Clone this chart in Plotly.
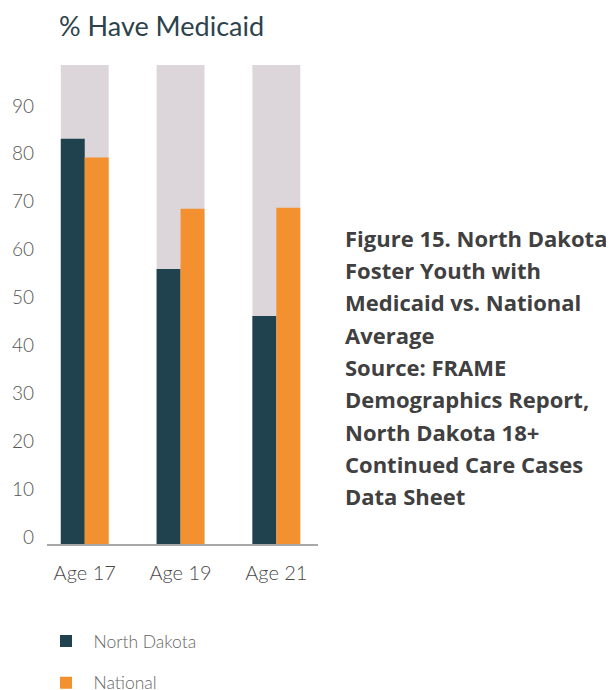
import plotly.graph_objects as go

categories = ["Age 17", "Age 19", "Age 21"]
north_dakota = [84.6, 57.4, 47.6]
national = [80.7, 70.0, 70.2]
background = [100, 100, 100]
y_ticks = [0, 10, 20, 30, 40, 50, 60, 70, 80, 90]
series_names = ["North Dakota", "National"]
title_text = "% Have Medicaid"
caption_lines = [
    "Figure 15. North Dakota",
    "Foster Youth with",
    "Medicaid vs. National",
    "Average",
    "Source: FRAME",
    "Demographics Report,",
    "North Dakota 18+",
    "Continued Care Cases",
    "Data Sheet",
]

ND_COLOR = "#1f424e"
NAT_COLOR = "#f39131"
BG_COLOR = "#dcd6db"

fig = go.Figure()
fig.add_trace(go.Bar(x=categories, y=background, width=0.5, offset=-0.25,
                     marker=dict(color=BG_COLOR, line=dict(width=0)),
                     showlegend=False, hoverinfo="skip"))
fig.add_trace(go.Bar(x=categories, y=north_dakota, width=0.25, offset=-0.25,
                     name=series_names[0], legendgroup="a",
                     marker=dict(color=ND_COLOR, line=dict(width=0))))
fig.add_trace(go.Bar(x=categories, y=national, width=0.25, offset=0.0,
                     name=series_names[1], legendgroup="b",
                     marker=dict(color=NAT_COLOR, line=dict(width=0))))

# the page adds an 8px body margin; layout below is in figure coordinates
W, H = 606, 682
PL, PR, PT, PB = 38.7, 310.3, 57, 536.3
annotations = []
for i, line in enumerate(caption_lines):
    yc = 230 + i * 32.3
    annotations.append(dict(
        text=line, xref="paper", yref="paper",
        x=(335.7 - PL) / (PR - PL), y=(PB - yc) / (PB - PT),
        xanchor="left", yanchor="middle", showarrow=False,
        font=dict(family="Open Sans", size=22, color="#404040", weight="bold"),
        align="left"))

fig.update_layout(
    width=W, height=H,
    margin=dict(l=PL, r=W - PR, t=PT, b=H - PB, autoexpand=False),
    paper_bgcolor="white", plot_bgcolor="white",
    barmode="overlay",
    title=dict(text=title_text, xref="container", yref="container",
               x=51 / W, xanchor="left", y=1 - 19 / H, yanchor="middle",
               font=dict(family="Lato", size=27, color="#2c434b")),
    xaxis=dict(type="category", range=[-0.394, 2.435], showline=True,
               linecolor="#a8a8a8", linewidth=1.5, showgrid=False, ticks="",
               tickangle=0, automargin=False,
               tickfont=dict(family="Lato", size=20, color="#4a4a4a", weight=300),
               ticklabelstandoff=10),
    yaxis=dict(range=[0, 100], showgrid=False, zeroline=False, showline=False,
               tickvals=y_ticks, ticks="", ticklabelstandoff=12, ticklabelshift=-7,
               automargin=False,
               tickfont=dict(family="Lato", size=19, color="#555555", weight=300)),
    legend=dict(xref="container", yref="container", x=30.5 / W, y=1 - 615 / H,
                xanchor="left", yanchor="top", traceorder="grouped",
                tracegroupgap=16,
                font=dict(family="Lato", size=17.5, color="#666666", weight=300),
                itemwidth=45),
    annotations=annotations,
    showlegend=True,
)

fig.write_html("out.html")
